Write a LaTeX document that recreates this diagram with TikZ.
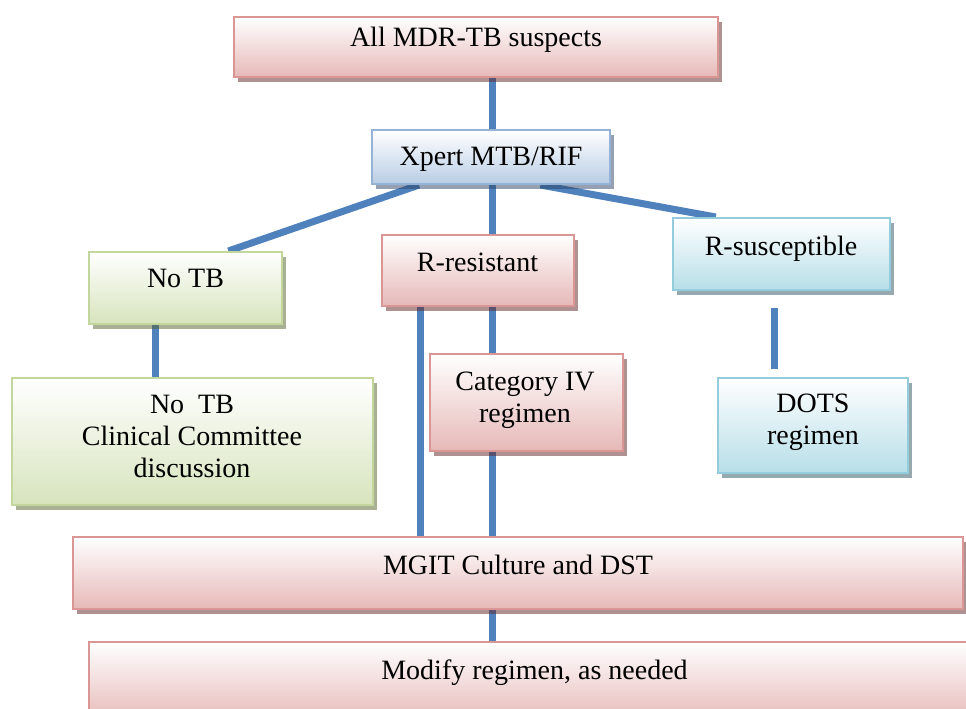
\documentclass[tikz,border=0pt]{standalone}
\usepackage{fontspec}
\setmainfont{Liberation Serif}
\usetikzlibrary{shadows,calc}
\pgfdeclarelayer{bg}
\pgfsetlayers{bg,main}
\definecolor{pinkD}{RGB}{217,150,148}
\definecolor{pinkF}{RGB}{230,185,184}
\definecolor{pinkS}{RGB}{97,37,37}
\definecolor{blueD}{RGB}{149,179,215}
\definecolor{blueF}{RGB}{185,205,229}
\definecolor{blueS}{RGB}{45,69,105}
\definecolor{greenD}{RGB}{195,214,155}
\definecolor{greenF}{RGB}{215,228,189}
\definecolor{greenS}{RGB}{85,101,45}
\definecolor{cyanD}{RGB}{147,205,221}
\definecolor{cyanF}{RGB}{183,222,232}
\definecolor{cyanS}{RGB}{45,85,97}
\definecolor{conncol}{RGB}{79,129,189}
\tikzset{
  box/.style={rectangle, line width=2pt, inner sep=0pt},
  pinkbox/.style={box, draw=pinkD, top color=white, bottom color=pinkF,
    drop shadow={shadow xshift=4pt, shadow yshift=-5pt, fill=pinkS, opacity=0.5}},
  bluebox/.style={box, draw=blueD, top color=white, bottom color=blueF,
    drop shadow={shadow xshift=4pt, shadow yshift=-5pt, fill=blueS, opacity=0.5}},
  greenbox/.style={box, draw=greenD, top color=white, bottom color=greenF,
    drop shadow={shadow xshift=4pt, shadow yshift=-5pt, fill=greenS, opacity=0.5}},
  cyanbox/.style={box, draw=cyanD, top color=white, bottom color=cyanF,
    drop shadow={shadow xshift=4pt, shadow yshift=-5pt, fill=cyanS, opacity=0.5}},
  txt/.style={font=\fontsize{28}{32}\selectfont, align=center, inner sep=0pt},
  conn/.style={draw=conncol, line width=7pt}
}
\begin{document}
\begin{tikzpicture}[x=1pt,y=-1pt]
\useasboundingbox (0,0) rectangle (966,709);
% boxes
\node[pinkbox, minimum width=484pt, minimum height=60pt] (a) at (476,47) {};
\node[bluebox, minimum width=238pt, minimum height=54pt] (b) at (491,157) {};
\node[greenbox, minimum width=193pt, minimum height=72pt] (c) at (185.5,288) {};
\node[pinkbox, minimum width=192pt, minimum height=71pt] (d) at (477.5,270) {};
\node[cyanbox, minimum width=217pt, minimum height=72pt] (e) at (781.5,254) {};
\node[greenbox, minimum width=361pt, minimum height=127pt] (f) at (192.5,441.5) {};
\node[pinkbox, minimum width=193pt, minimum height=97pt] (g) at (526.5,402.5) {};
\node[cyanbox, minimum width=190pt, minimum height=95pt] (h) at (813,425.5) {};
\node[pinkbox, minimum width=890pt, minimum height=72pt] (i) at (518,573) {};
\node[pinkbox, minimum width=911pt, minimum height=80pt] (j) at (544.5,682) {};
% texts
\node[txt] (ta) at (476,39.5) {All MDR-TB suspects};
\node[txt] (tb) at (491,159.5) {Xpert MTB/RIF};
\node[txt] (tc) at (185.5,278.7) {No TB};
\node[txt] (td) at (477.5,262.7) {R-resistant};
\node[txt] (te) at (781,248.5) {R-susceptible};
\node[txt] (tf) at (192,436.75) {No\ \ TB\\Clinical Committee\\discussion};
\node[txt] (tg) at (525,400.5) {Category IV\\regimen};
\node[txt] (th) at (813,421.75) {DOTS\\regimen};
\node[txt] (ti) at (518,564.5) {MGIT Culture and DST};
\node[txt] (tj) at (534.5,672.5) {Modify regimen, as needed};
% connector columns
\coordinate (mid) at (492,0);
\coordinate (leftcol) at (420,0);
\begin{pgfonlayer}{bg}
\fill[white] (0,0) rectangle (966,709);
\draw[conn] (a.south -| mid) -- (b.north -| mid);
\draw[conn] ($(b.south west)!0.2!(b.south east)$) -- ($(c.north west)!0.72!(c.north east)$);
\draw[conn] (b.south -| mid) -- (d.north -| mid);
\draw[conn] ($(b.south west)!0.706!(b.south east)$) -- ($(e.north west)!0.2!(e.north east)$);
\coordinate (cx) at ($(c.south west)!0.347!(c.south east)$);
\draw[conn] (cx) -- (cx |- f.north);
\draw[conn] (d.south -| leftcol) -- (i.north -| leftcol);
\draw[conn] (d.south -| mid) -- (g.north -| mid);
\draw[conn] (g.south -| mid) -- (i.north -| mid);
\coordinate (ex) at ($(e.south west)!0.47!(e.south east)$);
\draw[conn, shorten <=17pt, shorten >=8pt] (ex) -- (ex |- h.north);
\draw[conn] (i.south -| mid) -- (j.north -| mid);
\end{pgfonlayer}
\end{tikzpicture}
\end{document}
